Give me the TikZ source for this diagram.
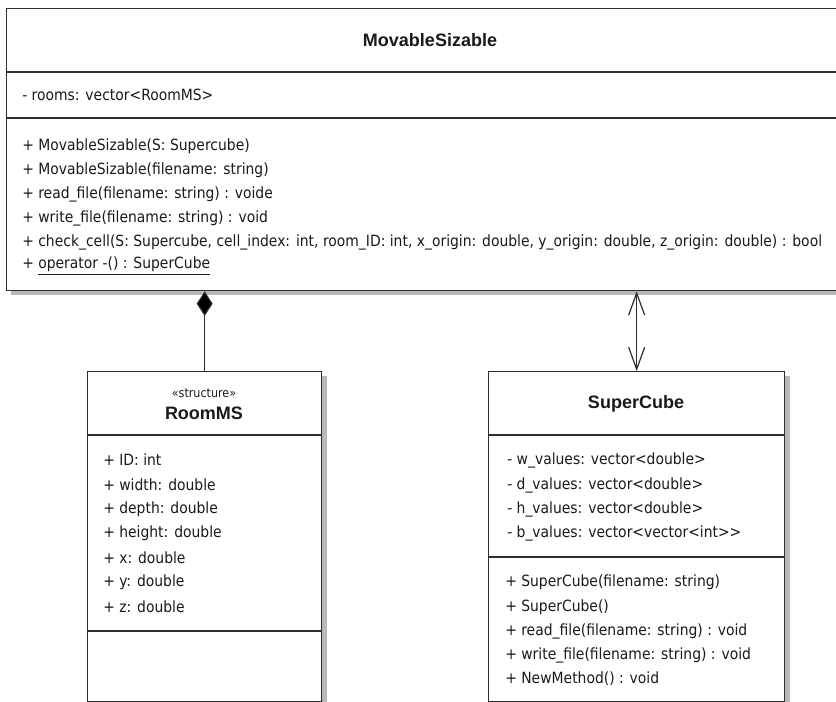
\documentclass[tikz,border=0pt]{standalone}
\usepackage{fontspec}
\setmainfont{DejaVu Sans Condensed}
\newfontfamily\titlefont{Liberation Sans}
\usetikzlibrary{arrows.meta}
\definecolor{edge}{HTML}{2E2E2E}
\definecolor{shade}{HTML}{B8B8B8}
\definecolor{ink}{HTML}{1A1A1A}
\begin{document}
\begin{tikzpicture}[x=0.75pt,y=-0.75pt,
  classbox/.style={draw=edge, line width=1pt, fill=white, inner sep=0pt, anchor=north west},
  shadowbox/.style={fill=shade, draw=none},
  member/.style={anchor=west, inner sep=0pt, text=ink, font=\fontsize{11.6}{13}\selectfont},
  classname/.style={inner sep=0pt, text=ink, font=\titlefont\bfseries\fontsize{13.5}{15}\selectfont},
  stereo/.style={inner sep=0pt, text=ink, font=\fontsize{9.3}{10}\selectfont},
  divider/.style={draw=edge, line width=1pt},
  link/.style={draw=edge, line width=0.9pt}
]
\useasboundingbox (0,0) rectangle (836,702);
\fill[white] (0,0) rectangle (836,702);

% drop shadows
\fill[shadowbox] (11,13) rectangle (905,295);
\fill[shadowbox] (92,376) rectangle (327,710);
\fill[shadowbox] (493,376) rectangle (790,710);

% MovableSizable
\node[classbox, minimum width=670.5pt, minimum height=211.5pt] (ms) at (6,8) {};
\node[classname] (msname) at (430,40) {MovableSizable};
\draw[divider] (6,72) -- (900,72);
\draw[divider] (6,118) -- (900,118);
\node[member] (msa1) at (22,95) {- rooms: vector<RoomMS>};
\node[member] (mso1) at (22,146) {+ MovableSizable(S: Supercube)};
\node[member] (mso2) at (22,170) {+ MovableSizable(filename: string)};
\node[member] (mso3) at (22,194) {+ read\_file(filename: string) : voide};
\node[member] (mso4) at (22,218) {+ write\_file(filename: string) : void};
\node[member] (mso5) at (22,242) {+ check\_cell(S: Supercube, cell\_index: int, room\_ID: int, x\_origin: double, y\_origin: double, z\_origin: double) : bool};
\node[member] (mso6) at (22,266) {+ \underline{operator -() : SuperCube}};

% RoomMS
\node[classbox, minimum width=175.5pt, minimum height=247.5pt] (room) at (87,371) {};
\node[stereo] (roomst) at (204,393) {«structure»};
\node[classname] (roomname) at (204,413) {RoomMS};
\draw[divider] (87,435) -- (321,435);
\draw[divider] (87,631) -- (321,631);
\node[member] (ra1) at (103,460.0) {+ ID: int};
\node[member] (ra2) at (103,484.4) {+ width: double};
\node[member] (ra3) at (103,508.8) {+ depth: double};
\node[member] (ra4) at (103,533.2) {+ height: double};
\node[member] (ra5) at (103,557.6) {+ x: double};
\node[member] (ra6) at (103,582.0) {+ y: double};
\node[member] (ra7) at (103,606.4) {+ z: double};

% SuperCube
\node[classbox, minimum width=222pt, minimum height=247.5pt] (sc) at (488,371) {};
\node[classname] (scname) at (636,404) {SuperCube};
\draw[divider] (488,435) -- (784,435);
\draw[divider] (488,557) -- (784,557);
\node[member] (sa1) at (507,460) {- w\_values: vector<double>};
\node[member] (sa2) at (507,485) {- d\_values: vector<double>};
\node[member] (sa3) at (507,509) {- h\_values: vector<double>};
\node[member] (sa4) at (507,533) {- b\_values: vector<vector<int>{}>};
\node[member] (so1) at (505,582) {+ SuperCube(filename: string)};
\node[member] (so2) at (505,607) {+ SuperCube()};
\node[member] (so3) at (505,631) {+ read\_file(filename: string) : void};
\node[member] (so4) at (505,655) {+ write\_file(filename: string) : void};
\node[member] (so5) at (505,679) {+ NewMethod() : void};

% composition and association
\draw[link, -{Diamond[length=18.5pt, width=12pt, fill=black]}] (room.north) -- (room.north |- ms.south);
\draw[link, {Straight Barb[length=16.5pt, width=12pt]}-{Straight Barb[length=16.5pt, width=12pt]}] (sc.north |- ms.south) -- (sc.north);
\end{tikzpicture}
\end{document}
